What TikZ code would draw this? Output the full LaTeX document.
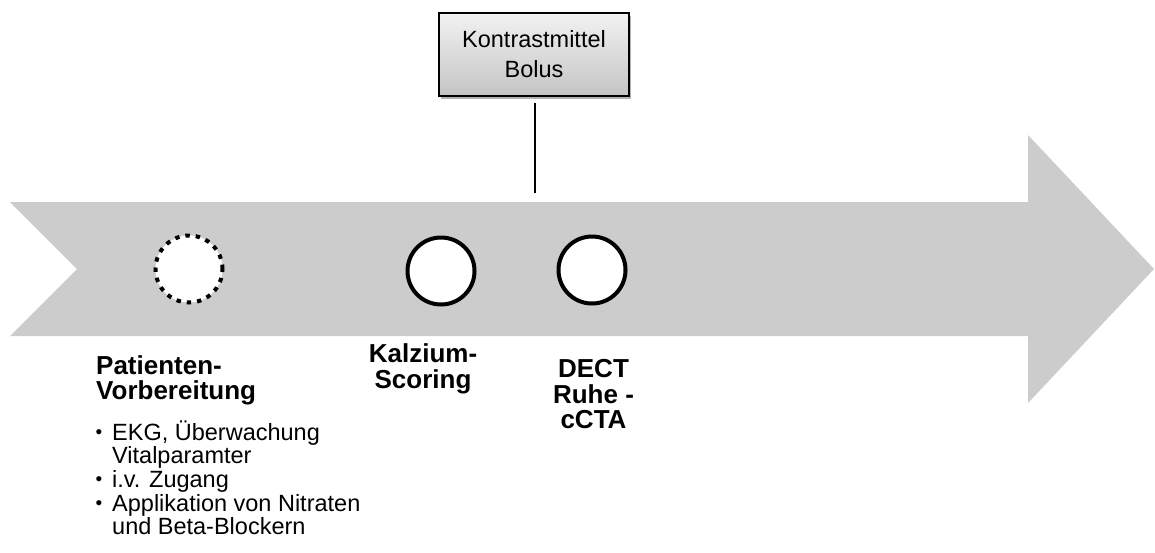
\documentclass[tikz,border=0pt]{standalone}
\usepackage{fontspec}
\setmainfont{Liberation Sans}
\usetikzlibrary{shadows}
\definecolor{chev}{RGB}{204,204,204}
\definecolor{boxtop}{RGB}{242,242,242}
\definecolor{boxbot}{RGB}{196,196,196}
\begin{document}
\begin{tikzpicture}[x=1pt,y=-1pt,
  head/.style={font=\fontsize{26}{26}\selectfont\bfseries, inner sep=0pt, anchor=base},
  item/.style={font=\fontsize{23.5}{23.5}\selectfont, inner sep=0pt, anchor=base west},
  bul/.style={font=\fontsize{19}{19}\selectfont, inner sep=0pt, anchor=base},
  ring/.style={circle, draw=black, fill=white, line width=4pt, minimum size=67pt, inner sep=0pt},
  dotring/.style={ring, dash pattern=on 4.4pt off 5.97pt},
  bolusbox/.style={draw=black, line width=1.5pt, top color=boxtop, bottom color=boxbot,
    minimum width=190pt, minimum height=83pt, inner sep=0pt, align=center,
    font=\fontsize{23.5}{30}\selectfont,
    drop shadow={shadow xshift=2pt, shadow yshift=-3pt, opacity=0.3, fill=black}},
  connector/.style={draw=black, line width=2pt}
  ]
\useasboundingbox (0,0) rectangle (1155,552);
% big chevron arrow
\fill[chev] (10,202) -- (1028,202) -- (1028,135) -- (1154,269) -- (1028,403)
  -- (1028,336) -- (10,336) -- (77,269) -- cycle;
% milestones
\node[dotring] (prep) at (189,269) {};
\node[ring] (calc) at (441,271) {};
\node[ring] (dect) at (592,270) {};
% contrast bolus box
\node[bolusbox] (bolus) at (534,54.5) {Kontrastmittel\\Bolus};
\coordinate (ltop) at (535,103);
\coordinate (lbot) at (535,193);
\draw[connector] (ltop) -- (lbot);
% labels
\node[head, anchor=base west] (p1) at (96,374) {Patienten-};
\node[head, anchor=base west] (p2) at (96,399.5) {Vorbereitung};
\node[head] (k1) at (423,362.5) {Kalzium-};
\node[head] (k2) at (423,388) {Scoring};
\node[head] (d1) at (593.5,377.5) {DECT};
\node[head] (d2) at (593.5,403) {Ruhe -};
\node[head] (d3) at (593.5,428.5) {cCTA};
% bullet list
\node[bul] (bu1) at (99,438) {•};
\node[item] (i1) at (112,440) {EKG, Überwachung};
\node[item] (i2) at (112,463.5) {Vitalparamter};
\node[bul] (bu2) at (99,485.5) {•};
\node[item] (i3) at (112,487.5) {i.v. Zugang};
\node[bul] (bu3) at (99,509) {•};
\node[item] (i4) at (112,511) {Applikation von Nitraten};
\node[item] (i5) at (112,534.5) {und Beta-Blockern};
\end{tikzpicture}
\end{document}
